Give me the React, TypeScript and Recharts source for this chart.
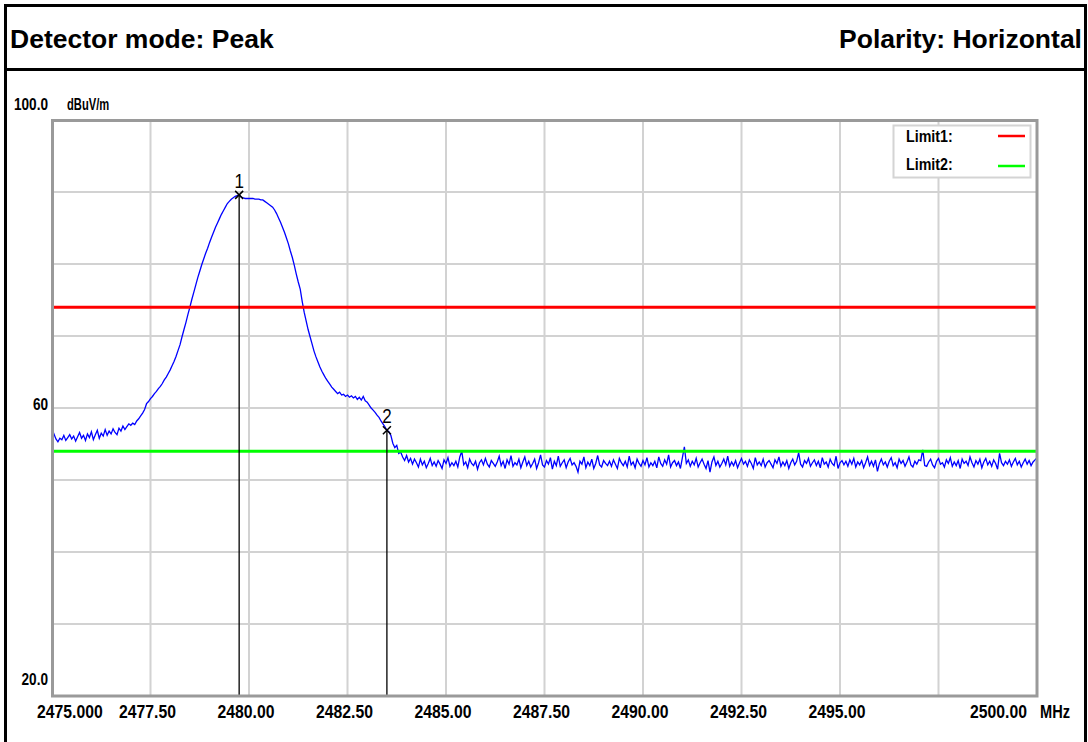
import { LineChart, Line, XAxis, YAxis, CartesianGrid, ReferenceLine, ReferenceDot } from "recharts";

// sweep: 2475.00 .. 2500.00 MHz, one reading every 0.05 MHz
const START_MHZ = 2475;
const STEP_MHZ = 0.05;

// 2475.00 - 2476.95
const leftFloor = [
  55.9, 56.4, 55.7, 55.3, 55.8, 55.6, 56.2, 55.5, 55.9, 56.3,
  55.7, 56.1, 55.4, 56.0, 56.6, 55.8, 56.2, 55.5, 56.4, 55.9,
  56.7, 55.6, 56.3, 56.9, 55.8, 56.5, 56.1, 57.0, 56.2, 56.8,
  56.4, 57.1, 56.6, 56.3, 57.2, 56.8, 57.5, 57.0, 57.4, 57.8,
];

// 2477.00 - 2479.70
const risingEdge = [
  57.6, 57.9, 57.7, 58.2, 58.5, 58.9, 59.3, 59.8, 60.6, 60.9,
  61.3, 61.6, 62.0, 62.3, 62.7, 63.0, 63.4, 63.9, 64.3, 64.8,
  65.3, 65.9, 66.5, 67.2, 68.0, 68.8, 69.9, 70.9, 71.9, 73.0,
  74.0, 75.1, 76.1, 77.1, 78.1, 79.0, 79.9, 80.7, 81.5, 82.2,
  83.0, 83.7, 84.4, 85.1, 85.7, 86.3, 86.9, 87.4, 87.9, 88.4,
  88.7, 89.0, 89.2, 89.4, 89.5,
];

// 2479.75 - 2482.20
const peakAndFall = [
  89.6, 89.3, 89.2, 89.1, 89.1, 89.1, 89.1, 89.1, 89.0, 89.0,
  89.0, 88.9, 88.9, 88.7, 88.5, 88.3, 88.1, 87.9, 87.5, 87.0,
  86.4, 85.8, 85.1, 84.4, 83.6, 82.8, 81.8, 80.9, 79.8, 78.6,
  77.5, 76.5, 74.8, 73.3, 72.1, 70.9, 69.9, 68.9, 67.9, 67.1,
  66.4, 65.7, 65.1, 64.6, 64.1, 63.7, 63.3, 62.9, 62.6, 62.3,
];

// 2482.25 - 2484.20
const shoulder = [
  62.0, 62.2, 61.8, 61.9, 61.6, 61.8, 61.5, 61.7, 61.4, 61.6,
  61.2, 61.5, 61.1, 61.6, 61.0, 60.8, 60.4, 60.0, 59.7, 59.4,
  59.0, 58.7, 58.2, 57.8, 57.4, 56.9, 56.7, 56.2, 55.1, 54.5,
  54.8, 53.7, 53.9, 53.2, 52.7, 53.4, 52.5, 53.0, 52.2, 52.9,
];

// 2484.25 - 2500.00
const noiseFloor = [
  52.4, 51.8, 52.9, 52.1, 52.6, 51.7, 52.3, 53.0, 52.0, 52.5, 51.9, 52.7, 52.2, 51.6, 52.8, 52.3, 53.1, 51.9, 52.4, 52.0,
  52.6, 51.8, 53.2, 54.0, 52.1, 52.5, 51.7, 52.9, 52.3, 52.0, 52.6, 51.5, 52.4, 52.8, 52.1, 53.0, 52.2, 51.8, 52.7, 52.3,
  51.9, 52.5, 53.3, 52.0, 52.6, 51.6, 52.8, 52.2, 53.4, 51.9, 52.4, 52.1, 52.9, 51.7, 52.5, 53.2, 52.0, 52.6, 51.8, 52.3,
  52.9, 51.6, 52.4, 53.5, 52.1, 51.8, 52.7, 52.2, 53.1, 51.5, 52.6, 52.0, 53.3, 51.9, 52.4, 52.8, 51.7, 52.5, 53.0, 52.1,
  52.4, 51.9, 51.1, 52.6, 52.2, 53.2, 51.7, 52.5, 52.0, 52.9, 51.6, 52.3, 53.4, 52.1, 51.8, 52.7, 52.3, 52.0, 52.6, 51.9,
  52.8, 52.2, 51.6, 53.0, 52.4, 52.0, 52.6, 51.8, 53.3, 52.1, 52.5, 51.7, 52.9, 52.3, 51.9, 52.7, 52.1, 53.1, 51.8, 52.4,
  52.0, 52.6, 51.7, 53.2, 52.3, 51.9, 52.8, 52.2, 53.5, 51.8, 52.4, 52.7, 52.0, 52.5, 51.6, 53.1, 54.6, 52.3, 52.8, 51.9,
  52.6, 52.1, 53.0, 51.8, 52.4, 52.9, 52.2, 51.6, 52.7, 51.1, 52.5, 53.2, 52.0, 52.6, 51.8, 52.3, 52.9, 52.1, 53.3, 51.9,
  52.5, 52.0, 52.7, 51.7, 52.4, 53.0, 52.2, 52.6, 51.9, 52.8, 52.3, 51.6, 53.1, 52.1, 52.5, 52.0, 52.9, 51.8, 52.4, 52.7,
  52.2, 51.7, 52.8, 52.3, 53.2, 51.9, 52.5, 52.0, 52.7, 51.6, 52.4, 52.9, 52.1, 52.6, 53.8, 52.2, 51.8, 52.7, 52.3, 53.0,
  51.9, 52.4, 52.8, 52.0, 52.6, 51.7, 53.1, 52.2, 52.5, 51.8, 52.9, 52.3, 52.0, 53.3, 51.6, 52.4, 52.7, 52.1, 52.6, 51.9,
  52.8, 52.2, 53.0, 51.8, 52.5, 52.1, 52.7, 51.7, 52.4, 53.2, 52.0, 52.6, 51.9, 52.8, 51.2, 52.3, 52.9, 52.1, 52.5, 51.8,
  52.6, 53.1, 52.0, 52.4, 51.7, 52.9, 52.3, 52.7, 51.9, 52.5, 53.2, 52.1, 51.8, 52.6, 52.2, 52.8, 52.7, 54.2, 52.0, 51.9,
  52.5, 52.9, 52.1, 51.7, 52.6, 53.0, 52.2, 52.4, 51.8, 52.8, 52.3, 53.1, 51.9, 52.5, 52.0, 52.7, 51.6, 52.9, 52.3, 52.6,
  52.0, 53.2, 52.4, 51.8, 52.7, 52.2, 52.9, 51.7, 52.5, 53.0, 52.1, 52.6, 51.9, 52.8, 52.3, 51.5, 53.7, 52.4, 52.0, 52.6,
  52.2, 52.8, 51.9, 52.5, 53.0, 52.1, 52.6, 51.8, 52.4, 52.9, 52.2, 52.7, 52.0, 52.5, 52.8, 53.1,
];

const xTicks = [2475, 2477.5, 2480, 2482.5, 2485, 2487.5, 2490, 2492.5, 2495, 2497.5, 2500];
const xTickLabels = ["2475.000", "2477.50", "2480.00", "2482.50", "2485.00", "2487.50", "2490.00", "2492.50", "2495.00", "", "2500.00"];
const yTicks = [20, 30, 40, 50, 60, 70, 80, 90, 100];
const yTickLabels = ["20.0", "", "", "", "60", "", "", "", "100.0"];

const limits = [
  { name: "Limit1:", level: 74, color: "#ff0000" },
  { name: "Limit2:", level: 54, color: "#00ff00" },
];

const markers = [
  { label: "1", freq: 2479.75, level: 89.6 },
  { label: "2", freq: 2483.5, level: 56.9 },
];

const levels = [...leftFloor, ...risingEdge, ...peakAndFall, ...shoulder, ...noiseFloor];
const data = levels.map((level, i) => ({
  freq: Math.round((START_MHZ + i * STEP_MHZ) * 100) / 100,
  level,
}));

const FONT = "'Liberation Sans', Arial, sans-serif";

// the analyzer uses a tall, narrow bitmap font; squeeze Liberation Sans horizontally
const NarrowText = ({ x, y, size, sx = 0.83, anchor = "start", bold = true, children }: any) => (
  <text
    transform={`translate(${x},${y}) scale(${sx},1)`}
    textAnchor={anchor}
    fontFamily={FONT}
    fontWeight={bold ? "bold" : "normal"}
    fontSize={size}
    fill="#000"
  >
    {children}
  </text>
);

const XTick = (props: any) => {
  const { x, y, payload } = props;
  const i = xTicks.indexOf(payload.value);
  const label = xTickLabels[i];
  if (!label) return null;
  let anchor = "middle";
  let tx = x - 3;
  if (i === 0) {
    anchor = "start";
    tx = x - 15;
  } else if (i === xTicks.length - 1) {
    anchor = "end";
    tx = x - 10;
  }
  return (
    <NarrowText x={tx} y={y + 22} size={19} anchor={anchor}>
      {label}
    </NarrowText>
  );
};

const YTick = (props: any) => {
  const { x, y, payload } = props;
  const i = yTicks.indexOf(payload.value);
  const label = yTickLabels[i];
  if (!label) return null;
  // the top and bottom labels sit above their grid line, the middle one straddles it
  let dy = 2;
  if (i === 0) dy = -11;
  if (i === yTicks.length - 1) dy = -10;
  return (
    <NarrowText x={x} y={y + dy} size={16} sx={0.85} anchor="end">
      {label}
    </NarrowText>
  );
};

const markerShape = (label: string) => (props: any) => {
  const { cx, cy } = props;
  return (
    <g>
      <path
        d={`M${cx - 4},${cy - 4}L${cx + 4},${cy + 4}M${cx + 4},${cy - 4}L${cx - 4},${cy + 4}`}
        stroke="#000"
        strokeWidth={1.5}
      />
      <NarrowText x={cx} y={cy - 7} size={20} sx={0.85} anchor="middle" bold={false}>
        {label}
      </NarrowText>
    </g>
  );
};

export default function App() {
  return (
    <div style={{ position: "absolute", left: 0, top: 0, width: 1088, height: 742, background: "#fff" }}>
      <div style={{ position: "absolute", left: 0, top: 0 }}>
        <LineChart width={1088} height={742} data={data} margin={{ top: 120, right: 51, bottom: 0, left: 0 }}>
          <CartesianGrid stroke="#d2d2d2" strokeWidth={2} />
          <XAxis
            type="number"
            dataKey="freq"
            domain={[2475, 2500]}
            ticks={xTicks}
            interval={0}
            axisLine={false}
            tickLine={false}
            tickSize={0}
            tickMargin={0}
            height={46}
            tick={XTick}
            allowDataOverflow
          />
          <YAxis
            type="number"
            domain={[20, 100]}
            ticks={yTicks}
            interval={0}
            axisLine={false}
            tickLine={false}
            tickSize={0}
            tickMargin={4}
            width={52}
            tick={YTick}
            allowDataOverflow
          />
          <Line
            type="linear"
            dataKey="level"
            stroke="#0000ff"
            strokeWidth={1.3}
            dot={false}
            isAnimationActive={false}
          />
          {limits.map((l) => (
            <ReferenceLine key={l.name} y={l.level} stroke={l.color} strokeWidth={3} />
          ))}
          {markers.map((m) => (
            <ReferenceLine
              key={"v" + m.label}
              segment={[
                { x: m.freq, y: m.level },
                { x: m.freq, y: 20 },
              ]}
              stroke="#000"
              strokeWidth={1.3}
            />
          ))}
          {markers.map((m) => (
            <ReferenceDot key={"d" + m.label} x={m.freq} y={m.level} r={4} shape={markerShape(m.label)} />
          ))}
        </LineChart>
      </div>

      <svg width={1088} height={742} style={{ position: "absolute", left: 0, top: 0, pointerEvents: "none" }}>
        {/* page frame and header */}
        <line x1={5.5} y1={4} x2={5.5} y2={742} stroke="#000" strokeWidth={3} />
        <line x1={1085.5} y1={4} x2={1085.5} y2={742} stroke="#000" strokeWidth={3} />
        <line x1={4} y1={5.5} x2={1087} y2={5.5} stroke="#000" strokeWidth={3} />
        <line x1={4} y1={69.5} x2={1087} y2={69.5} stroke="#000" strokeWidth={3} />
        <text x={10} y={48} fontFamily={FONT} fontWeight="bold" fontSize={26.5} fill="#000">
          Detector mode: Peak
        </text>
        <text x={1082} y={48} textAnchor="end" fontFamily={FONT} fontWeight="bold" fontSize={26.5} fill="#000">
          Polarity: Horizontal
        </text>

        {/* plot frame */}
        <rect x={52.5} y={120.5} width={984.5} height={575.5} fill="none" stroke="#9a9a9a" strokeWidth={3} />

        <NarrowText x={67} y={110} size={16} sx={0.7}>
          dBuV/m
        </NarrowText>
        <NarrowText x={1040} y={718} size={18} sx={0.81}>
          MHz
        </NarrowText>

        {/* legend */}
        <rect x={893.5} y={125.5} width={137} height={52} fill="#fff" stroke="#d4d4d4" strokeWidth={2} />
        {limits.map((l, i) => (
          <g key={l.name}>
            <NarrowText x={906} y={142 + i * 28} size={17} sx={0.84}>
              {l.name}
            </NarrowText>
            <line x1={998} y1={136 + i * 30} x2={1025} y2={136 + i * 30} stroke={l.color} strokeWidth={2.5} />
          </g>
        ))}
      </svg>
    </div>
  );
}
